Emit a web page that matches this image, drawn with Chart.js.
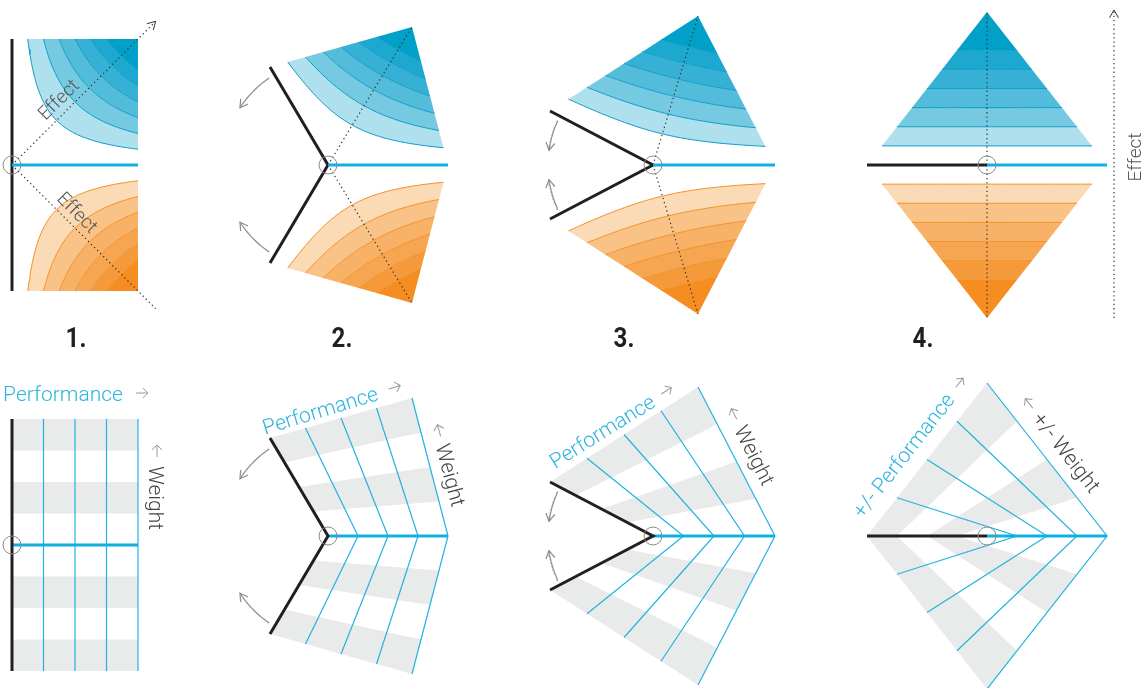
<!DOCTYPE html>
<html>
<head>
<meta charset="utf-8">
<script src="https://cdn.jsdelivr.net/npm/chart.js@4.4.1/dist/chart.umd.min.js"></script>
<style>
html, body { margin: 0; padding: 0; background: #fff; }
canvas { display: block; }
</style>
</head>
<body>
<canvas id="chartCanvas" width="1145" height="688"></canvas>
<script>
// four variants of the same performance x weight frame
const PANEL_NUMBERS = ['1.', '2.', '3.', '4.']
const NUMBER_X = [76, 342, 624, 923]
const ORIGIN_X = [12, 328, 653, 987]
const TOP_AXIS_Y = [165, 165, 165, 165]
const BOTTOM_AXIS_Y = [545, 536, 536, 536]
// frame corners relative to the origin, px, y counted upwards
const PERF_END = [[126, 0], [120, 0], [122, 0], [120, 0]]
const WEIGHT_END = [[0, 126], [-58, 98], [-103, 54], [-120, 0]]
const FAR_CORNER = [[126, 126], [84, 138], [45, 149], [0, 153]]

const PERF_TICKS = [0, 1, 2, 3, 4]
const WEIGHT_TICKS = [0, 1, 2, 3, 4]
const SHADED_WEIGHT = [[1, 2], [3, 4]]
// effect = performance * weight, contour levels
const EFFECT_LEVELS = [2, 4, 6, 8, 10, 12, 16]
const BLUE_BANDS = ['#aee0ee', '#75cae1', '#52bcda', '#36b1d5', '#1ca8cf', '#00a0c8']
const ORANGE_BANDS = ['#fbdab6', '#f9c388', '#f7b268', '#f6a550', '#f59a3b', '#f68d20']
const DOT_REACH = [1.14, 1, 1, 1]
const TURN_ARC = [null, [124, 147], [155, 172], null]
const TURN_RADIUS = 105
const EFFECT_AXIS = { x: 1114, from: 318, to: 10 }

const LABELS = [
	{ text: 'Effect', x: 58, y: 99, angle: -45, size: 19, color: '#555' },
	{ text: 'Effect', x: 78, y: 212, angle: 45, size: 19, color: '#555' },
	{ text: 'Effect', x: 1134, y: 157, angle: -90, size: 19, color: '#555' },
	{ text: 'Performance', x: 63, y: 393, angle: 0, size: 21, color: '#2ab4df', arrow: 1, gap: 13 },
	{ text: 'Weight', x: 157, y: 498, angle: 90, size: 21, color: '#444', arrow: -1, gap: 9 },
	{ text: 'Performance', x: 320, y: 410, angle: -17, size: 21, color: '#2ab4df', arrow: 1, gap: 12 },
	{ text: 'Weight', x: 451, y: 475, angle: 75, size: 21, color: '#444', arrow: -1, gap: 8 },
	{ text: 'Performance', x: 602, y: 431, angle: -32, size: 21, color: '#2ab4df', arrow: 1, gap: 10 },
	{ text: 'Weight', x: 755, y: 455, angle: 63, size: 21, color: '#444', arrow: -1, gap: 8 },
	{ text: '+/- Performance', x: 903, y: 455, angle: -52, size: 21, color: '#2ab4df', arrow: 1, gap: 10 },
	{ text: '+/- Weight', x: 1067, y: 452, angle: 52, size: 21, color: '#444', arrow: -1, gap: 8 },
]

const N = PERF_TICKS[PERF_TICKS.length - 1]
const W = WEIGHT_TICKS[WEIGHT_TICKS.length - 1]

function framePoint(i, p, w, side, axisY) {
	let u = p / N, v = w / W
	let [hx, hy] = PERF_END[i], [bx, by] = WEIGHT_END[i], [tx, ty] = FAR_CORNER[i]
	let dx = u * (1 - v) * hx + (1 - u) * v * bx + u * v * tx
	let dy = u * (1 - v) * hy + (1 - u) * v * by + u * v * ty
	return { x: ORIGIN_X[i] + dx, y: axisY - side * dy }
}

function contour(i, level, side, axisY, reverse) {
	let pts = []
	for (let k = 0; k <= 48; k++) {
		let t = reverse ? 1 - k / 48 : k / 48
		let p = (level / W) * Math.pow(N * W / level, t)
		pts.push(framePoint(i, p, level / p, side, axisY))
	}
	return pts
}

function arcPoint(i, deg, side, axisY) {
	let a = deg * Math.PI / 180
	return { x: ORIGIN_X[i] + TURN_RADIUS * Math.cos(a), y: axisY - side * TURN_RADIUS * Math.sin(a) }
}

function chevron(tip, from, len) {
	let dx = tip.x - from.x, dy = tip.y - from.y
	let d = Math.hypot(dx, dy)
	dx /= d; dy /= d
	let arm = s => {
		let c = Math.cos(s * Math.PI / 6), sn = Math.sin(s * Math.PI / 6)
		return { x: tip.x - len * (dx * c - dy * sn), y: tip.y - len * (dx * sn + dy * c) }
	}
	return [arm(1), tip, arm(-1)]
}

let datasets = []
function add(ds) {
	datasets.push(Object.assign({
		showLine: true, pointRadius: 0, borderWidth: 0, fill: false,
		tension: 0, clip: false, borderColor: 'rgba(0,0,0,0)',
	}, ds))
}

function addLine(data, color, width, dash) {
	add({ data: data, borderColor: color, borderWidth: width, borderDash: dash || [] })
}

function addTurnArrows(i, axisY) {
	if (!TURN_ARC[i]) {
		return
	}
	let [a0, a1] = TURN_ARC[i]
	for (let side of [1, -1]) {
		let pts = []
		for (let a = a0; a <= a1 + 0.01; a += 1) {
			pts.push(arcPoint(i, a, side, axisY))
		}
		addLine(pts, '#8c8c8c', 1.2)
		addLine(chevron(arcPoint(i, a1, side, axisY), arcPoint(i, a1 - 4, side, axisY), 9), '#8c8c8c', 1.2)
	}
}

// top row: effect bands
for (let i = 0; i < 4; i++) {
	let axisY = TOP_AXIS_Y[i]
	for (let side of [1, -1]) {
		let colors = side > 0 ? BLUE_BANDS : ORANGE_BANDS
		for (let b = 0; b < EFFECT_LEVELS.length - 1; b++) {
			let lo = EFFECT_LEVELS[b], hi = EFFECT_LEVELS[b + 1]
			let pts = contour(i, lo, side, axisY, false)
			if (hi < N * W) {
				pts = pts.concat(contour(i, hi, side, axisY, true))
			} else {
				pts.push(framePoint(i, N, W, side, axisY))
			}
			pts.push(pts[0])
			add({ data: pts, fill: 'shape', backgroundColor: colors[b] })
		}
		for (let b = 0; b < EFFECT_LEVELS.length - 1; b++) {
			addLine(contour(i, EFFECT_LEVELS[b], side, axisY, false), side > 0 ? '#0f9cc9' : '#f39026', 1)
		}
	}
	let o = framePoint(i, 0, 0, 1, axisY)
	for (let side of [1, -1]) {
		let c = framePoint(i, N, W, side, axisY)
		let end = { x: o.x + (c.x - o.x) * DOT_REACH[i], y: o.y + (c.y - o.y) * DOT_REACH[i] }
		addLine([o, end], '#333', 1.2, [1.3, 3])
		if (i === 0 && side > 0) {
			addLine(chevron(end, o, 9), '#333', 1)
		}
	}
	addLine([framePoint(i, 0, W, -1, axisY), o, framePoint(i, 0, W, 1, axisY)], '#231f20', 3)
	addLine([o, framePoint(i, N, 0, 1, axisY)], '#0fb1e2', 3)
	addTurnArrows(i, axisY)
}
addLine([{ x: EFFECT_AXIS.x, y: EFFECT_AXIS.from }, { x: EFFECT_AXIS.x, y: EFFECT_AXIS.to }], '#333', 1.2, [1.3, 3])
addLine(chevron({ x: EFFECT_AXIS.x, y: EFFECT_AXIS.to }, { x: EFFECT_AXIS.x, y: EFFECT_AXIS.from }, 9), '#333', 1)

// bottom row: performance x weight grid
for (let i = 0; i < 4; i++) {
	let axisY = BOTTOM_AXIS_Y[i]
	for (let side of [1, -1]) {
		for (let [w0, w1] of SHADED_WEIGHT) {
			let pts = [framePoint(i, 0, w0, side, axisY), framePoint(i, N, w0, side, axisY),
				framePoint(i, N, w1, side, axisY), framePoint(i, 0, w1, side, axisY)]
			pts.push(pts[0])
			add({ data: pts, fill: 'shape', backgroundColor: '#e9ebea' })
		}
	}
	for (let p of PERF_TICKS.slice(1)) {
		addLine([framePoint(i, p, W, -1, axisY), framePoint(i, p, 0, 1, axisY), framePoint(i, p, W, 1, axisY)], '#22b2e2', 1.2)
	}
	let o = framePoint(i, 0, 0, 1, axisY)
	addLine([o, framePoint(i, N, 0, 1, axisY)], '#0fb1e2', 3)
	addLine([framePoint(i, 0, W, -1, axisY), o, framePoint(i, 0, W, 1, axisY)], '#231f20', 3)
	addTurnArrows(i, axisY)
}

// origin rings
let rings = []
for (let i = 0; i < 4; i++) {
	rings.push({ x: ORIGIN_X[i], y: TOP_AXIS_Y[i] }, { x: ORIGIN_X[i], y: BOTTOM_AXIS_Y[i] })
}
add({
	data: rings, showLine: false, pointRadius: 9, pointBorderColor: '#8a8a8a',
	pointBackgroundColor: 'rgba(255,255,255,0)', pointBorderWidth: 1,
})

datasets.forEach((ds, k) => { ds.order = -k })

const labelPlugin = {
	id: 'labels',
	afterDatasetsDraw(chart) {
		let ctx = chart.ctx
		for (let l of LABELS) {
			ctx.save()
			ctx.translate(l.x, l.y)
			ctx.rotate(l.angle * Math.PI / 180)
			ctx.font = '300 ' + l.size + 'px Roboto'
			ctx.fillStyle = l.color
			ctx.textAlign = 'center'
			ctx.textBaseline = 'alphabetic'
			let capMid = l.size * 0.36
			ctx.fillText(l.text, 0, capMid)
			if (l.arrow) {
				let half = ctx.measureText(l.text).width / 2
				let x0 = l.arrow * (half + l.gap), x1 = x0 + l.arrow * 12
				ctx.strokeStyle = '#9a9a9a'
				ctx.lineWidth = 1
				ctx.beginPath()
				ctx.moveTo(x0, 0)
				ctx.lineTo(x1, 0)
				ctx.moveTo(x1 - l.arrow * 5, -5)
				ctx.lineTo(x1, 0)
				ctx.lineTo(x1 - l.arrow * 5, 5)
				ctx.stroke()
			}
			ctx.restore()
		}
		for (let i = 0; i < PANEL_NUMBERS.length; i++) {
			ctx.save()
			ctx.translate(NUMBER_X[i], 347)
			ctx.scale(0.86, 1)
			ctx.font = 'bold 28px Roboto'
			ctx.fillStyle = '#231f20'
			ctx.textAlign = 'center'
			ctx.textBaseline = 'alphabetic'
			ctx.fillText(PANEL_NUMBERS[i], 0, 0)
			ctx.restore()
		}
	}
}

new Chart(document.getElementById('chartCanvas'), {
	type: 'scatter',
	data: { datasets: datasets },
	options: {
		responsive: false,
		animation: false,
		events: [],
		layout: { padding: 0, autoPadding: false },
		plugins: {
			legend: { display: false },
			tooltip: { enabled: false },
		},
		scales: {
			x: { type: 'linear', min: 0, max: 1145, display: false },
			y: { type: 'linear', min: 0, max: 688, reverse: true, display: false },
		},
	},
	plugins: [labelPlugin],
})
</script>
</body>
</html>
